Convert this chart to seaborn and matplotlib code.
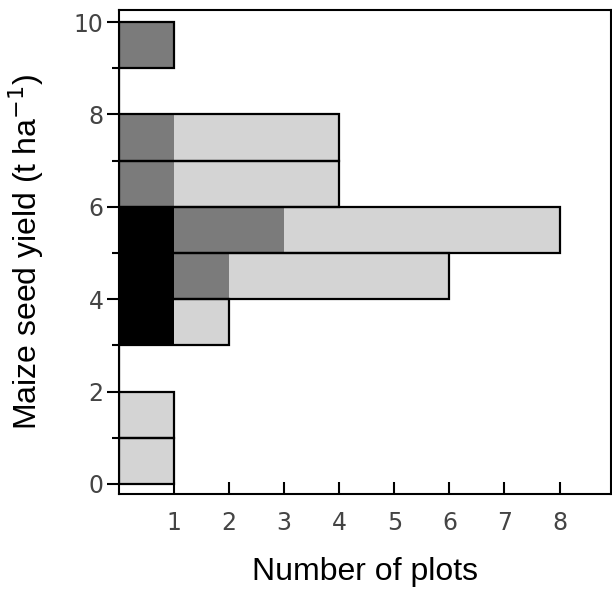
import matplotlib
matplotlib.use("Agg")
import matplotlib.pyplot as plt
import seaborn as sns
import numpy as np

# yield bins (t/ha), lower edges; counts per category in each bin
bin_low = [0, 1, 2, 3, 4, 5, 6, 7, 8, 9]
black_n = [0, 0, 0, 1, 1, 1, 0, 0, 0, 0]
dark_n = [0, 0, 0, 0, 1, 2, 1, 1, 0, 1]
light_n = [1, 1, 0, 1, 4, 5, 3, 3, 0, 0]

x_ticks = [1, 2, 3, 4, 5, 6, 7, 8]
y_major = [0, 2, 4, 6, 8, 10]
y_minor = [1, 3, 5, 7, 9]

sns.set_style("white")
plt.rcParams["font.family"] = ["DejaVu Sans"]

centers = np.array(bin_low) + 0.5
cum_black = np.array(black_n)
cum_dark = cum_black + np.array(dark_n)
cum_total = cum_dark + np.array(light_n)

fig = plt.figure(figsize=(6.12, 5.91), dpi=100)
ax = fig.add_axes([0.1944, 0.164, 0.8036, 0.819])

sns.barplot(x=cum_total, y=centers, orient="h", native_scale=True, width=1,
            color="#d4d4d4", saturation=1, linewidth=0, ax=ax)
sns.barplot(x=cum_dark, y=centers, orient="h", native_scale=True, width=1,
            color="#7b7b7b", saturation=1, linewidth=0, ax=ax)
sns.barplot(x=cum_black, y=centers, orient="h", native_scale=True, width=1,
            color="#000000", saturation=1, linewidth=0, ax=ax)
sns.barplot(x=cum_total, y=centers, orient="h", native_scale=True, width=1,
            fill=False, edgecolor="black", linewidth=1.6, ax=ax)
for p in ax.patches[-len(centers):]:
    p.set_facecolor("none")
    p.set_edgecolor("black")
    p.set_linewidth(1.6)

ax.set_xlim(0, 8.93)
ax.set_ylim(-0.22, 10.26)
ax.set_xticks(x_ticks)
ax.set_xticklabels([str(v) for v in x_ticks])
ax.set_yticks(y_major)
ax.set_yticklabels([str(v) for v in y_major])
ax.set_yticks(y_minor, minor=True)

ax.tick_params(axis="x", direction="in", length=9, width=1.5, colors="black",
               labelcolor="#444444", labelsize=17, pad=12, bottom=True)
ax.tick_params(axis="y", which="major", direction="out", length=9, width=1.5,
               colors="black", labelcolor="#444444", labelsize=17, pad=2, left=True)
ax.tick_params(axis="y", which="minor", direction="out", length=5, width=1.5,
               colors="black", left=True)

for s in ax.spines.values():
    s.set_visible(True)
    s.set_color("black")
    s.set_linewidth(1.5)

ax.set_xlabel("Number of plots", fontsize=23, color="black",
              family=["Liberation Sans", "DejaVu Sans"], labelpad=16)
ax.set_ylabel("Maize seed yield (t ha$^{-1}$)", fontsize=23, color="black",
              family=["Liberation Sans", "DejaVu Sans"], labelpad=20)

fig.savefig("out.png", dpi=100)
plt.close(fig)
